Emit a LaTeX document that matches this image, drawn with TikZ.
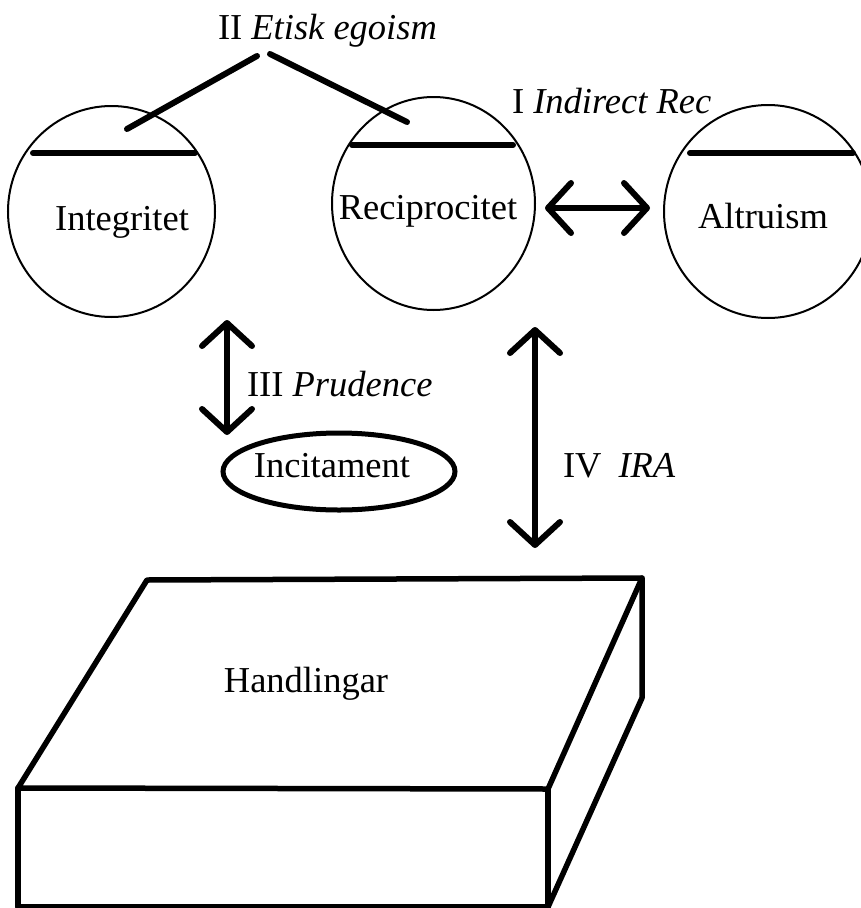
\documentclass[tikz,border=0pt]{standalone}
\usepackage{fontspec}
\setmainfont{Liberation Serif}
\usetikzlibrary{arrows.meta,shapes.geometric}
\begin{document}
\begin{tikzpicture}[x=1pt,y=-1pt,
  lbl/.style={anchor=base, font=\fontsize{36.5}{40}\selectfont, inner sep=0pt, outer sep=0pt},
  ring/.style={draw, line width=2pt, ellipse, inner sep=0pt},
  bar/.style={line width=6pt, line cap=round},
  boxline/.style={line width=5.5pt, line cap=round, line join=round},
  tip/.tip={Straight Barb[length=23pt,width=50pt,round]},
  dbl/.style={line width=6pt, tip-tip}
]
\useasboundingbox (0,0) rectangle (860,908);

% circles
\node[ring, minimum width=207pt, minimum height=211pt] (integ) at (111.5,211.5) {};
\node[ring, minimum width=203pt, minimum height=213pt] (recip) at (433.5,203.5) {};
\node[ring, minimum width=208pt, minimum height=213pt] (altr) at (768,211.5) {};

% bars
\draw[bar] (33,153) -- (195,153);
\draw[bar] (352,145) -- (513,145);
\draw[bar] (690,153) -- (853,153);

% labels in circles
\node[lbl] (tinteg) at (122,230) {Integritet};
\node[lbl] (trecip) at (428,219) {Reciprocitet};
\node[lbl] (taltr) at (763,228) {Altruism};

% top labels
\node[lbl, anchor=base west] (etisk) at (218,39) {II \textit{Etisk egoism}};
\node[lbl, anchor=base west] (indir) at (512,113) {I \textit{Indirect Rec}};

% etisk connectors
\coordinate (eL1) at (257,56);
\coordinate (eL2) at (127,129);
\coordinate (eR1) at (270,54);
\coordinate (eR2) at (407,122);
\draw[bar] (eL1) -- (eL2);
\draw[bar] (eR1) -- (eR2);

% recip <-> altr
\coordinate (ra1) at (545,208);
\coordinate (ra2) at (650,208);
\draw[dbl] (ra1) -- (ra2);

% Incitament
\node[draw, ellipse, line width=5pt, minimum width=232pt, minimum height=77pt, inner sep=0pt] (incit) at (339,471.5) {};
\node[lbl] (tincit) at (332,477) {Incitament};

% III Prudence
\coordinate (p1) at (227,320);
\coordinate (p2) at (227,435);
\draw[dbl] (p1) -- (p2);
\node[lbl, anchor=base west] (prud) at (247,396) {III \textit{Prudence}};

% IV IRA
\coordinate (i1) at (535,327);
\coordinate (i2) at (535,548);
\draw[dbl] (i1) -- (i2);
\node[lbl, anchor=base west] (ira) at (563,477) {IV\hspace{17pt}\textit{IRA}};

% box
\coordinate (A) at (147,580);
\coordinate (B) at (642,578);
\coordinate (C) at (548,789);
\coordinate (D) at (18,788);
\coordinate (E) at (18,907);
\coordinate (F) at (548,907);
\coordinate (G) at (642,698);
\draw[boxline] (D) -- (A) -- (B) -- (C) -- (D) -- cycle;
\draw[boxline] (D) -- (E) -- (F) -- (C);
\draw[boxline] (B) -- (G) -- (F);
\node[lbl] (hand) at (306,692) {Handlingar};
\end{tikzpicture}
\end{document}
